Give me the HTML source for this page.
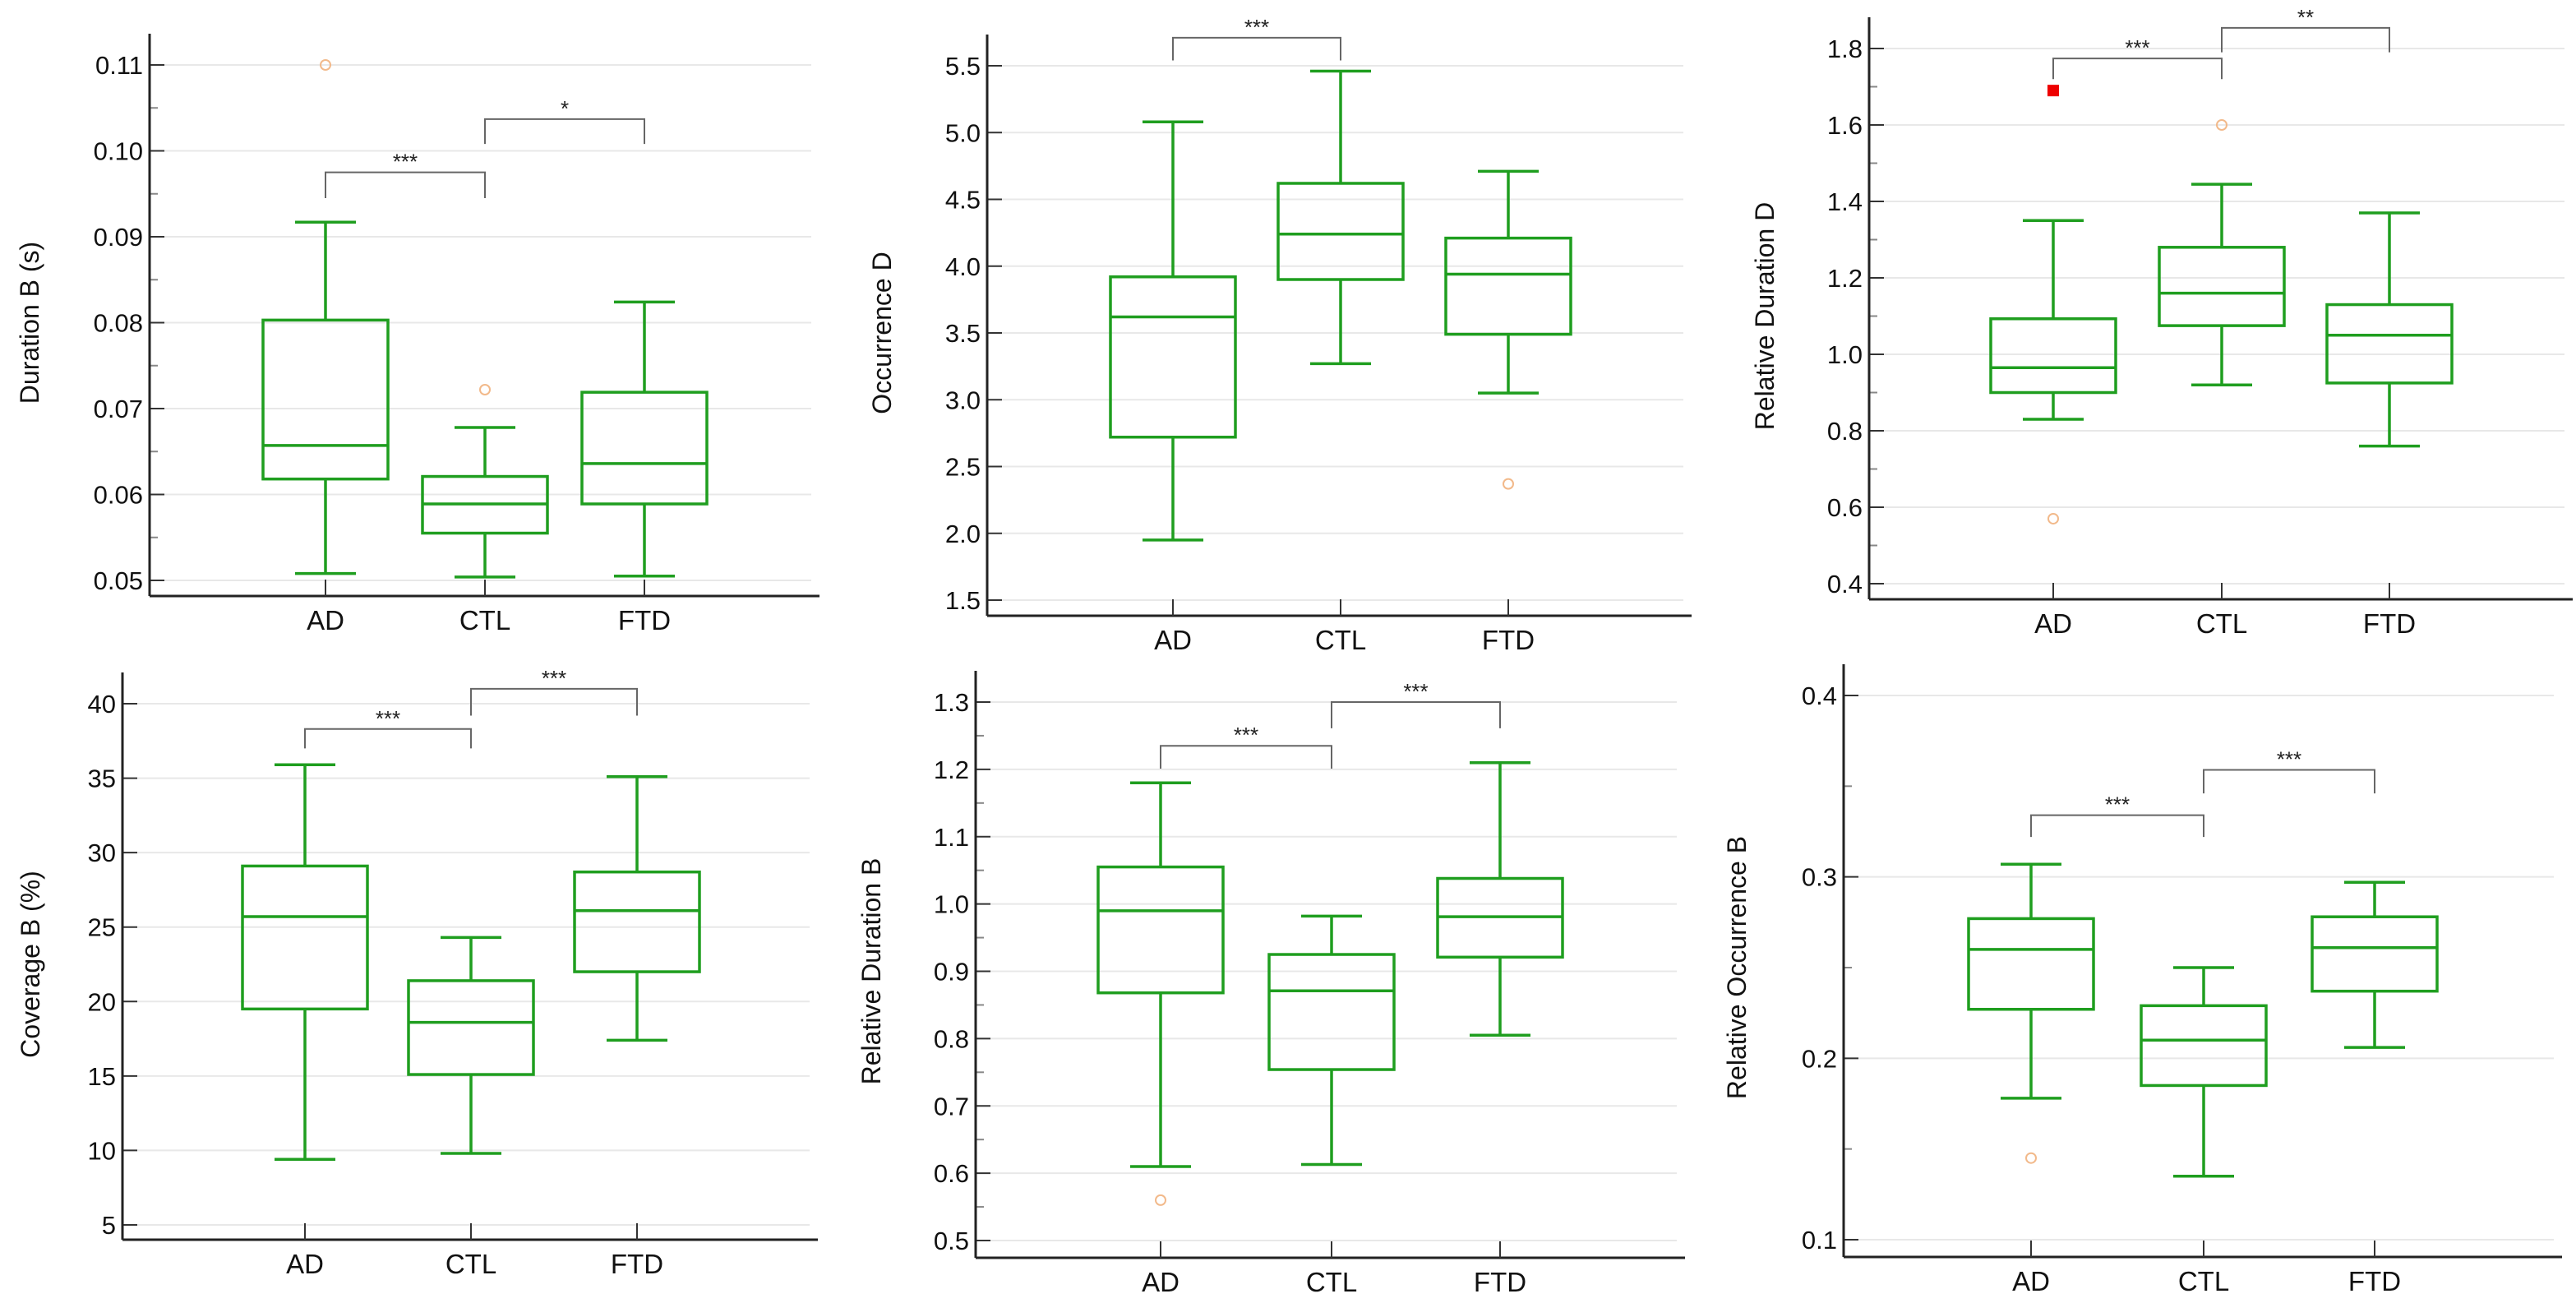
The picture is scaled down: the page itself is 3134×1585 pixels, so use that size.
<!DOCTYPE html>
<html><head><meta charset="utf-8">
<style>
html,body{margin:0;padding:0;background:#fff;}
svg{display:block;font-family:"Liberation Sans",Arial,sans-serif;}
</style></head>
<body>
<svg id="fig" width="3134" height="1585" viewBox="0 0 3134 1585" xmlns="http://www.w3.org/2000/svg"></svg>
<script>
// ---- data ----
const groups = ["AD","CTL","FTD"];

const p1Title = "Duration B (s)";
const p1Ticks = [0.05,0.06,0.07,0.08,0.09,0.10,0.11];
const p1TickLabels = ["0.05","0.06","0.07","0.08","0.09","0.10","0.11"];
const p1WhiskerLow = [0.0508,0.0504,0.0505];
const p1Q1 = [0.0618,0.0555,0.0589];
const p1Median = [0.0657,0.0589,0.0636];
const p1Q3 = [0.0803,0.0621,0.0719];
const p1WhiskerHigh = [0.0917,0.0678,0.0824];
const p1Outliers = [[0,0.110],[1,0.0722]];
const p1Brackets = [[0,1,0.0975,0.0945,"***"],[1,2,0.1037,0.1008,"*"]];

const p2Title = "Occurrence D";
const p2Ticks = [1.5,2.0,2.5,3.0,3.5,4.0,4.5,5.0,5.5];
const p2TickLabels = ["1.5","2.0","2.5","3.0","3.5","4.0","4.5","5.0","5.5"];
const p2WhiskerLow = [1.95,3.27,3.05];
const p2Q1 = [2.72,3.90,3.49];
const p2Median = [3.62,4.24,3.94];
const p2Q3 = [3.92,4.62,4.21];
const p2WhiskerHigh = [5.08,5.46,4.71];
const p2Outliers = [[2,2.37]];
const p2Brackets = [[0,1,5.71,5.54,"***"]];

const p3Title = "Relative Duration D";
const p3Ticks = [0.4,0.6,0.8,1.0,1.2,1.4,1.6,1.8];
const p3TickLabels = ["0.4","0.6","0.8","1.0","1.2","1.4","1.6","1.8"];
const p3WhiskerLow = [0.83,0.92,0.76];
const p3Q1 = [0.90,1.075,0.925];
const p3Median = [0.965,1.16,1.05];
const p3Q3 = [1.093,1.28,1.13];
const p3WhiskerHigh = [1.35,1.445,1.37];
const p3Outliers = [[0,0.57],[1,1.60]];
const p3Extreme = [[0,1.69]];
const p3Brackets = [[0,1,1.774,1.72,"***"],[1,2,1.854,1.79,"**"]];

const p4Title = "Coverage B (%)";
const p4Ticks = [5,10,15,20,25,30,35,40];
const p4TickLabels = ["5","10","15","20","25","30","35","40"];
const p4WhiskerLow = [9.4,9.8,17.4];
const p4Q1 = [19.5,15.1,22.0];
const p4Median = [25.7,18.6,26.1];
const p4Q3 = [29.1,21.4,28.7];
const p4WhiskerHigh = [35.9,24.3,35.1];
const p4Outliers = [];
const p4Brackets = [[0,1,38.3,37.0,"***"],[1,2,41.0,39.2,"***"]];

const p5Title = "Relative Duration B";
const p5Ticks = [0.5,0.6,0.7,0.8,0.9,1.0,1.1,1.2,1.3];
const p5TickLabels = ["0.5","0.6","0.7","0.8","0.9","1.0","1.1","1.2","1.3"];
const p5WhiskerLow = [0.61,0.613,0.805];
const p5Q1 = [0.868,0.754,0.921];
const p5Median = [0.990,0.871,0.981];
const p5Q3 = [1.055,0.925,1.038];
const p5WhiskerHigh = [1.18,0.982,1.21];
const p5Outliers = [[0,0.56]];
const p5Brackets = [[0,1,1.235,1.201,"***"],[1,2,1.300,1.261,"***"]];

const p6Title = "Relative Occurrence B";
const p6Ticks = [0.1,0.2,0.3,0.4];
const p6TickLabels = ["0.1","0.2","0.3","0.4"];
const p6WhiskerLow = [0.178,0.135,0.206];
const p6Q1 = [0.227,0.185,0.237];
const p6Median = [0.260,0.210,0.261];
const p6Q3 = [0.277,0.229,0.278];
const p6WhiskerHigh = [0.307,0.250,0.297];
const p6Outliers = [[0,0.145]];
const p6Brackets = [[0,1,0.334,0.322,"***"],[1,2,0.359,0.346,"***"]];

// ---- layout ----
const svg = document.getElementById('fig');
const NS = "http://www.w3.org/2000/svg";
function mk(tag, attrs, parent){
  const e = document.createElementNS(NS, tag);
  for (const k in attrs) e.setAttribute(k, attrs[k]);
  (parent||svg).appendChild(e);
  return e;
}
const GREEN = "#1f9e1f";

function panel(cfg){
  const g = mk('g', {});
  
  
  const y = v => cfg.yTop + (cfg.tMax - v) / (cfg.tMax - cfg.tMin) * (cfg.yBot - cfg.yTop);
  const x = i => cfg.xs[i];
  // gridlines & ticks
  cfg.ticks.forEach((t, i) => {
    const gl = mk('line', {x1: cfg.ax + 18, x2: cfg.right - 10, y1: y(t), y2: y(t), stroke: "#e8e8e8", "stroke-width": 2}, g);
    
    
    const tk = mk('line', {x1: cfg.ax, x2: cfg.ax + 18, y1: y(t), y2: y(t), stroke: "#333", "stroke-width": 2}, g);
    
    
    const tl = mk('text', {x: cfg.ax - 8, y: y(t) + 11, "text-anchor": "end", "font-size": 31, fill: "#111"}, g);
    tl.textContent = cfg.labels[i];
    
    
  });
  if (cfg.minor) {
    for (let i = 0; i < cfg.ticks.length - 1; i++) {
      const m = (cfg.ticks[i] + cfg.ticks[i+1]) / 2;
      const mt = mk('line', {x1: cfg.ax, x2: cfg.ax + 10, y1: y(m), y2: y(m), stroke: "#888", "stroke-width": 2}, g);
      
      
    }
  }
  // axes
  const ya = mk('line', {x1: cfg.ax, x2: cfg.ax, y1: cfg.yTop - 38, y2: cfg.axisY, stroke: "#222", "stroke-width": 3}, g);
  
  
  const xa = mk('line', {x1: cfg.ax, x2: cfg.right, y1: cfg.axisY, y2: cfg.axisY, stroke: "#222", "stroke-width": 3}, g);
  
  
  // y title
  const cy = (cfg.yTop + cfg.yBot) / 2;
  const yt = mk('text', {x: cfg.titleX, y: cy, "text-anchor": "middle", "font-size": 32, fill: "#111", transform: `rotate(-90 ${cfg.titleX} ${cy})`, dy: 11}, g);
  yt.textContent = cfg.title;
  
  
  // x ticks & labels
  groups.forEach((name, i) => {
    const xt = mk('line', {x1: x(i), x2: x(i), y1: cfg.axisY, y2: cfg.axisY - 20, stroke: "#333", "stroke-width": 2}, g);
    
    
    const xl = mk('text', {x: x(i), y: cfg.axisY + 41, "text-anchor": "middle", "font-size": 33, fill: "#111"}, g);
    xl.textContent = name;
    
    
  });
  // boxes
  const bw = 76, cw = 37;
  groups.forEach((name, i) => {
    const bg = mk('g', {stroke: GREEN, "stroke-width": 3.5, fill: "none"}, g);
    
    
    mk('line', {x1: x(i), x2: x(i), y1: y(cfg.wl[i]), y2: y(cfg.q1[i])}, bg);
    mk('line', {x1: x(i), x2: x(i), y1: y(cfg.q3[i]), y2: y(cfg.wh[i])}, bg);
    mk('line', {x1: x(i) - cw, x2: x(i) + cw, y1: y(cfg.wl[i]), y2: y(cfg.wl[i])}, bg);
    mk('line', {x1: x(i) - cw, x2: x(i) + cw, y1: y(cfg.wh[i]), y2: y(cfg.wh[i])}, bg);
    mk('rect', {x: x(i) - bw, y: y(cfg.q3[i]), width: 2 * bw, height: y(cfg.q1[i]) - y(cfg.q3[i])}, bg);
    mk('line', {x1: x(i) - bw, x2: x(i) + bw, y1: y(cfg.med[i]), y2: y(cfg.med[i])}, bg);
  });
  cfg.out.forEach(o => {
    const c = mk('circle', {cx: x(o[0]), cy: y(o[1]), r: 6, fill: "none", stroke: "#f2b98a", "stroke-width": 2}, g);
    
    
  });
  (cfg.extreme || []).forEach(o => {
    const r = mk('rect', {x: x(o[0]) - 7, y: y(o[1]) - 7, width: 14, height: 14, fill: "#ee0000"}, g);
    
    
  });
  cfg.br.forEach(b => {
    const p = mk('path', {d: `M${x(b[0])} ${y(b[3])} V${y(b[2])} H${x(b[1])} V${y(b[3])}`, fill: "none", stroke: "#666", "stroke-width": 2}, g);
    
    
    const t = mk('text', {x: (x(b[0]) + x(b[1])) / 2, y: y(b[2]) - 4, "text-anchor": "middle", "font-size": 26, fill: "#222"}, g);
    t.textContent = b[4];
    
    
  });
}

panel({name:"panel-duration-b", title:p1Title, ticks:p1Ticks, labels:p1TickLabels, tMin:0.05, tMax:0.11, yTop:79, yBot:706, axisY:725, ax:182, right:997, titleX:36, xs:[396,590,784], minor:true,
  wl:p1WhiskerLow, q1:p1Q1, med:p1Median, q3:p1Q3, wh:p1WhiskerHigh, out:p1Outliers, br:p1Brackets});
panel({name:"panel-occurrence-d", title:p2Title, ticks:p2Ticks, labels:p2TickLabels, tMin:1.5, tMax:5.5, yTop:80, yBot:730, axisY:749, ax:1201, right:2058, titleX:1073, xs:[1427,1631,1835], minor:false,
  wl:p2WhiskerLow, q1:p2Q1, med:p2Median, q3:p2Q3, wh:p2WhiskerHigh, out:p2Outliers, br:p2Brackets});
panel({name:"panel-relative-duration-d", title:p3Title, ticks:p3Ticks, labels:p3TickLabels, tMin:0.4, tMax:1.8, yTop:59, yBot:710, axisY:729, ax:2274, right:3130, titleX:2147, xs:[2498,2703,2907], minor:true,
  wl:p3WhiskerLow, q1:p3Q1, med:p3Median, q3:p3Q3, wh:p3WhiskerHigh, out:p3Outliers, extreme:p3Extreme, br:p3Brackets});
panel({name:"panel-coverage-b", title:p4Title, ticks:p4Ticks, labels:p4TickLabels, tMin:5, tMax:40, yTop:856, yBot:1490, axisY:1508, ax:149, right:995, titleX:37, xs:[371,573,775], minor:false,
  wl:p4WhiskerLow, q1:p4Q1, med:p4Median, q3:p4Q3, wh:p4WhiskerHigh, out:p4Outliers, br:p4Brackets});
panel({name:"panel-relative-duration-b", title:p5Title, ticks:p5Ticks, labels:p5TickLabels, tMin:0.5, tMax:1.3, yTop:854, yBot:1509, axisY:1530, ax:1187, right:2050, titleX:1060, xs:[1412,1620,1825], minor:true,
  wl:p5WhiskerLow, q1:p5Q1, med:p5Median, q3:p5Q3, wh:p5WhiskerHigh, out:p5Outliers, br:p5Brackets});
panel({name:"panel-relative-occurrence-b", title:p6Title, ticks:p6Ticks, labels:p6TickLabels, tMin:0.1, tMax:0.4, yTop:846, yBot:1508, axisY:1529, ax:2243, right:3117, titleX:2113, xs:[2471,2681,2889], minor:true,
  wl:p6WhiskerLow, q1:p6Q1, med:p6Median, q3:p6Q3, wh:p6WhiskerHigh, out:p6Outliers, br:p6Brackets});
</script>
</body></html>
